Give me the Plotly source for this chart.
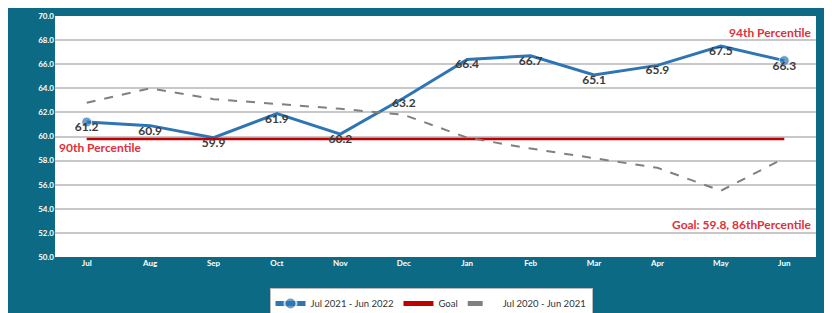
import plotly.graph_objects as go

months = ["Jul", "Aug", "Sep", "Oct", "Nov", "Dec", "Jan", "Feb", "Mar", "Apr", "May", "Jun"]
current = [61.2, 60.9, 59.9, 61.9, 60.2, 63.2, 66.4, 66.7, 65.1, 65.9, 67.5, 66.3]
prior = [62.8, 64.0, 63.1, 62.7, 62.3, 61.8, 59.9, 59.0, 58.2, 57.4, 55.5, 58.2]
goal_value = 59.8
goal = [goal_value] * len(months)
y_ticks = [50, 52, 54, 56, 58, 60, 62, 64, 66, 68, 70]

TEAL = "#0C6A84"
BLUE = "#2E75B6"
RED = "#C00000"
ANN_RED = "#E0303A"
GRAY = "#808080"

OFF = 8  # page body margin
W, H = 832 - OFF, 313 - OFF
ML, MT = 55 - OFF, 16 - OFF
PW, PH = 761, 241
MR, MB = W - ML - PW, H - MT - PH


def px_x(p):
    return (p - OFF - ML) / PW


def px_y(p):
    return (MT + PH - (p - OFF)) / PH


fig = go.Figure()

fig.add_trace(go.Scatter(
    x=months, y=current, mode="lines+markers", name="Jul 2021 - Jun 2022",
    line=dict(color=BLUE, width=3),
    marker=dict(size=[10] + [0] * (len(months) - 2) + [10], color=BLUE),
))
fig.add_trace(go.Scatter(
    x=months, y=goal, mode="lines", name="Goal",
    line=dict(color=RED, width=2.5),
))
fig.add_trace(go.Scatter(
    x=months, y=prior, mode="lines", name="Jul 2020 - Jun 2021",
    line=dict(color=GRAY, width=2, dash="dash"),
))
fig.add_trace(go.Scatter(
    x=months, y=current, mode="text", text=[f"{v:.1f}" for v in current],
    textposition="bottom center", showlegend=False, hoverinfo="skip",
    textfont=dict(family="Lato", size=12, color="#3a3a3a", weight="bold"),
))

ann_font = dict(family="Lato", size=12, color=ANN_RED, weight="bold")
fig.add_annotation(x=px_x(57), y=px_y(147), xref="paper", yref="paper", text="90th Percentile",
                   showarrow=False, xanchor="left", yanchor="middle", font=ann_font)
fig.add_annotation(x=px_x(813), y=px_y(33), xref="paper", yref="paper", text="94th Percentile",
                   showarrow=False, xanchor="right", yanchor="middle", font=ann_font)
fig.add_annotation(x=px_x(813), y=px_y(224), xref="paper", yref="paper",
                   text="Goal: 59.8, 86thPercentile",
                   showarrow=False, xanchor="right", yanchor="middle", font=ann_font)

fig.update_layout(
    width=W, height=H,
    margin=dict(l=ML, r=MR, t=MT, b=MB, autoexpand=False),
    paper_bgcolor=TEAL, plot_bgcolor="white",
    showlegend=True,
    legend=dict(orientation="h", x=px_x(431), y=px_y(288), xanchor="center", yanchor="top",
                bgcolor="white", bordercolor="#BBBBBB", borderwidth=1,
                font=dict(family="Lato", size=9.5, color="#333333"),
                itemwidth=30, tracegroupgap=0, itemsizing="constant"),
    xaxis=dict(type="category", range=[-0.5, 11.5], showgrid=False, zeroline=False,
               tickfont=dict(family="Lato", size=8, color="white", weight="bold"),
               ticks="", fixedrange=True),
    yaxis=dict(range=[50, 70], tickvals=y_ticks, ticktext=[f"{v:.1f}" for v in y_ticks],
               showgrid=True, gridcolor="#C8C8C8", gridwidth=1.5, zeroline=False,
               tickfont=dict(family="Lato", size=8, color="white", weight="bold"),
               ticks="", fixedrange=True),
)

fig.write_html("out.html")
